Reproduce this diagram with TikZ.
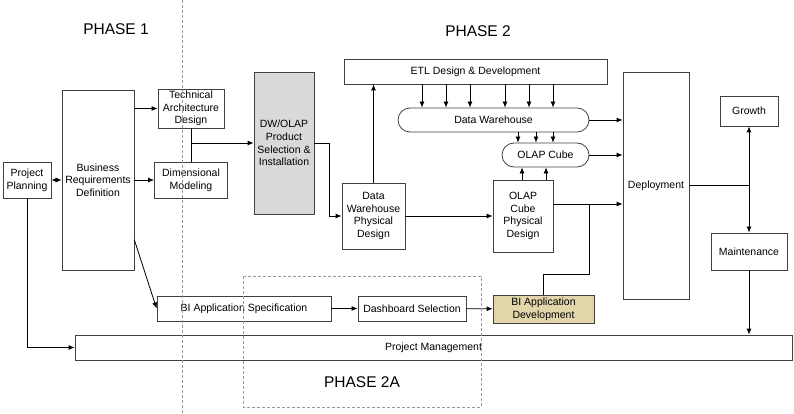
\documentclass[tikz,border=0pt]{standalone}
\usepackage{fontspec}
\setmainfont{Liberation Sans}
\usetikzlibrary{arrows.meta}
\begin{document}
\begin{tikzpicture}[x=1pt, y=-1pt, >={Latex[length=6pt,width=5pt]}, line width=0.8pt, font=\fontsize{10.5}{12.7}\selectfont,
	box/.style={draw=black!75, align=center, inner sep=0pt},
	pill/.style={box, rounded corners=12pt},
	phase/.style={font=\fontsize{15.5}{18}\selectfont, inner sep=0pt},
	guide/.style={draw=black!40, line width=0.6pt, dash pattern=on 3pt off 2pt}]
	\useasboundingbox (0,0) rectangle (794,414);
	\node[phase] (p1) at (116,29) {PHASE 1};
	\node[phase] (p2) at (478,31) {PHASE 2};
	\node[phase] (p2a) at (362,382) {PHASE 2A};
	% phase 1
	\node[box, minimum width=48, minimum height=36] (plan) at (27,180) {Project\\Planning};
	\node[box, minimum width=72, minimum height=180] (brd) at (98,180) {Business\\Requirements\\Definition};
	\node[box, minimum width=66, minimum height=39] (tad) at (191,108.5) {Technical\\Architecture\\Design};
	\node[box, minimum width=73, minimum height=36] (dim) at (191,180) {Dimensional\\Modeling};
	\node[box, fill=black!15, minimum width=60, minimum height=142] (dwolap) at (284,143) {DW/OLAP\\Product\\Selection \&\\Installation};
	% phase 2
	\node[box, minimum width=263, minimum height=25] (etl) at (475.5,71.5) {ETL Design \& Development};
	\node[pill, minimum width=191, minimum height=24] (dw) at (493.5,120) {Data Warehouse};
	\node[pill, minimum width=87, minimum height=24] (olap) at (545.5,155) {OLAP Cube};
	\node[box, minimum width=63, minimum height=66] (dwpd) at (373.5,216) {Data\\Warehouse\\Physical\\Design};
	\node[box, minimum width=60, minimum height=72] (ocpd) at (523,216) {OLAP\\Cube\\Physical\\Design};
	\node[box, minimum width=66, minimum height=227] (dep) at (656,185.5) {Deployment};
	\node[box, minimum width=58, minimum height=30] (growth) at (749,111) {Growth};
	\node[box, minimum width=76, minimum height=37] (maint) at (749,251.5) {Maintenance};
	% phase 2a
	\node[box, minimum width=174, minimum height=25] (bias) at (244,308.5) {BI Application Specification};
	\node[box, minimum width=108, minimum height=25] (dash) at (412,308.5) {Dashboard Selection};
	\node[box, fill={rgb,255:red,227;green,213;blue,170}, minimum width=101, minimum height=28] (biad) at (543.5,309) {BI Application\\Development};
	\node[box, minimum width=717, minimum height=25] (pm) at (433.5,347.5) {Project Management};
	% connectors
	\draw[<->] (plan.east) -- (brd.west);
	\draw[->] (brd.east |- tad.west) -- (tad.west);
	\draw[->] (brd.east) -- (dim.west);
	\draw[->] ([yshift=-60pt]brd.east) -- (bias.west);
	\draw[->] (tad.south) |- (dwolap.west);
	\draw (dim.north) -- (dim.north |- dwolap.west);
	\draw[->] (dwolap.east) -- ++(15,0) |- (dwpd.west);
	\draw[->] (dwpd.north) -- (dwpd.north |- etl.south);
	\foreach \x in {422,446,470,505,529,553}
		\draw[->] (\x,0 |- etl.south) -- (\x,0 |- dw.north);
	\foreach \x in {518,536,553}
		\draw[->] (\x,0 |- dw.south) -- (\x,0 |- olap.north);
	\foreach \x in {522,546}
		\draw[->] (\x,0 |- ocpd.north) -- (\x,0 |- olap.south);
	\draw[->] (dwpd.east) -- (ocpd.west);
	\draw[->] (dw.east) -- (dw.east -| dep.west);
	\draw[->] (olap.east) -- (olap.east -| dep.west);
	\coordinate (j) at (589,204);
	\draw[->] (ocpd.east |- j) -- (j -| dep.west);
	\draw (biad.north) -- ++(0,-20) -| (j);
	\coordinate (k) at (dep.east -| growth.south);
	\draw (dep.east) -- (k);
	\draw[->] (k) -- (growth.south);
	\draw[->] (k) -- (maint.north);
	\draw[->] (maint.south) -- (maint.south |- pm.north);
	\draw[->] (bias) -- (dash);
	\draw[->] (dash) -- (biad);
	\draw[->] (plan.south) |- (pm.west);
	% phase borders
	\draw[guide] (182,0) -- (182,414);
	\draw[guide] (243,276) rectangle (481,407);
\end{tikzpicture}
\end{document}
